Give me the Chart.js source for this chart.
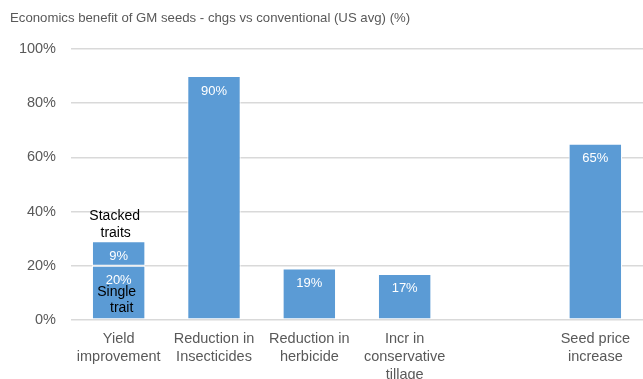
<!DOCTYPE html>
<html>
<head>
<meta charset="utf-8">
<script src="https://cdn.jsdelivr.net/npm/chart.js@4.4.1/dist/chart.umd.min.js"></script>
<style>
  html, body { margin: 0; padding: 0; background: #fff; }
  #wrap { width: 643px; height: 379px; }
</style>
</head>
<body>
<div id="wrap"><canvas id="barChart"></canvas></div>
<script>
// categories and values (%)
var categories = [
  ["Yield", "improvement"],
  ["Reduction in", "Insecticides"],
  ["Reduction in", "herbicide"],
  ["Incr in", "conservative", "tillage"],
  "",
  ["Seed price", "increase"]
];
var baseValues = [20, 90, 19, 17, null, 65];     // single trait / main values
var stackedValues = [9, null, null, null, null, null]; // extra from stacked traits
var yTicks = [0, 20, 40, 60, 80, 100];

var barColor = "#5b9bd5";
var textGrey = "#595959";

// writes the % value inside the top of every bar, plus the trait notes on the yield bar
var barLabels = {
  id: "barLabels",
  afterDatasetsDraw: function (chart) {
    var ctx = chart.ctx;
    ctx.save();
    ctx.textAlign = "center";
    ctx.textBaseline = "middle";
    chart.data.datasets.forEach(function (ds, di) {
      var meta = chart.getDatasetMeta(di);
      meta.data.forEach(function (bar, i) {
        var v = ds.data[i];
        if (v === null || v === undefined) return;
        ctx.fillStyle = "#ffffff";
        ctx.font = "13px 'Liberation Sans', Arial, sans-serif";
        ctx.fillText(v + "%", bar.x, bar.y + 15);
      });
    });
    // notes on the stacked yield bar
    var single = chart.getDatasetMeta(0).data[0];
    var stacked = chart.getDatasetMeta(1).data[0];
    ctx.fillStyle = "#000000";
    ctx.font = "14px 'Liberation Sans', Arial, sans-serif";
    ctx.fillText("Stacked", stacked.x - 4, stacked.y - 25);
    ctx.fillText("traits", stacked.x - 3, stacked.y - 8);
    ctx.fillText("Single", single.x - 2, single.y + 26);
    ctx.fillText("trait", single.x + 3, single.y + 42);
    ctx.restore();
  }
};

var barChartCanvas = document.getElementById("barChart").getContext("2d");
var barChart = new Chart(barChartCanvas, {
  type: "bar",
  data: {
    labels: categories,
    datasets: [
      {
        label: "Single trait",
        data: baseValues,
        backgroundColor: barColor,
        borderColor: "#ffffff",
        borderWidth: 1,
        borderSkipped: false,
        barPercentage: 0.56,
        categoryPercentage: 1
      },
      {
        label: "Stacked traits",
        data: stackedValues,
        backgroundColor: barColor,
        borderColor: "#ffffff",
        borderWidth: 1,
        borderSkipped: false,
        barPercentage: 0.56,
        categoryPercentage: 1
      }
    ]
  },
  options: {
    responsive: true,
    maintainAspectRatio: false,
    animation: false,
    events: [],
    layout: { padding: { left: 10, right: 0, top: 0, bottom: 0 } },
    plugins: {
      legend: { display: false },
      tooltip: { enabled: false },
      title: {
        display: true,
        text: "Economics benefit of GM seeds - chgs vs conventional (US avg) (%)",
        align: "start",
        color: textGrey,
        font: { family: "'Liberation Sans', Arial, sans-serif", size: 13.2, weight: "normal" },
        padding: { top: 10, bottom: 23 }
      }
    },
    scales: {
      x: {
        stacked: true,
        grid: { display: false },
        border: { display: false },
        ticks: {
          color: textGrey,
          maxRotation: 0,
          autoSkip: false,
          padding: 2,
          font: { family: "'Liberation Sans', Arial, sans-serif", size: 14.5, lineHeight: 1.25 }
        },
        afterFit: function (scale) { scale.height = 59; }
      },
      y: {
        stacked: true,
        min: 0,
        max: 100,
        afterBuildTicks: function (scale) {
          scale.ticks = yTicks.map(function (v) { return { value: v }; });
        },
        grid: { color: "#d9d9d9", lineWidth: 1.5, drawTicks: false },
        border: { display: false },
        ticks: {
          color: textGrey,
          padding: 15,
          font: { family: "'Liberation Sans', Arial, sans-serif", size: 14.5 },
          callback: function (v) { return v + "%"; }
        },
        afterFit: function (scale) { scale.width = 61; }
      }
    }
  },
  plugins: [barLabels]
});
</script>
</body>
</html>
